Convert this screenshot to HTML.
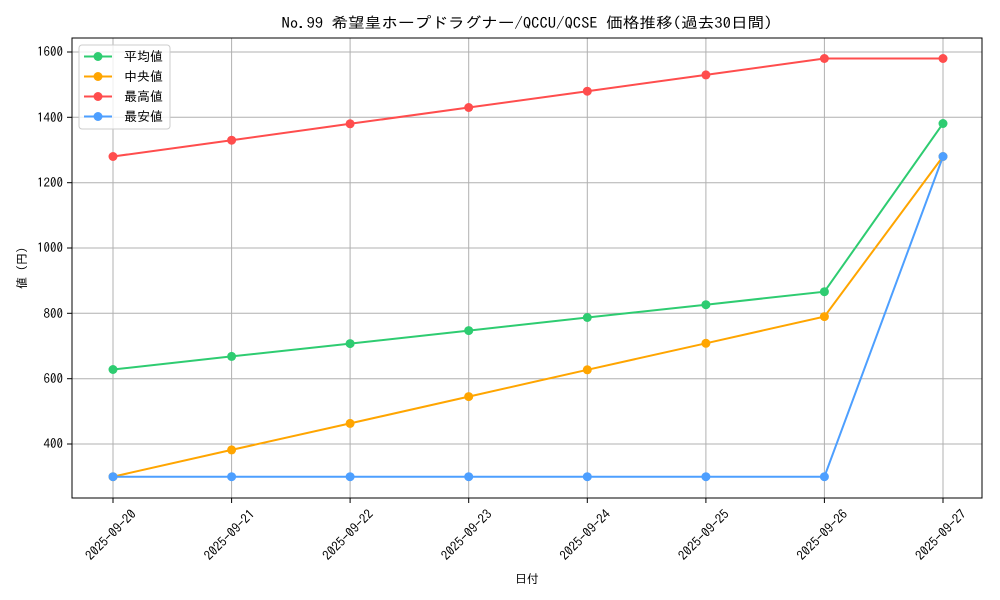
<!DOCTYPE html>
<html><head><meta charset="utf-8"><style>body{margin:0;background:#fff}svg{display:block;font-family:"IPAGothic","Noto Sans CJK JP",sans-serif}</style></head><body>
<svg width="1000" height="600" xmlns="http://www.w3.org/2000/svg">
<rect width="1000" height="600" fill="#fff"/>
<g stroke="#b0b0b0" stroke-width="1">
<line x1="113" y1="38" x2="113" y2="498"/><line x1="231.6" y1="38" x2="231.6" y2="498"/><line x1="350.1" y1="38" x2="350.1" y2="498"/><line x1="468.7" y1="38" x2="468.7" y2="498"/><line x1="587.3" y1="38" x2="587.3" y2="498"/><line x1="705.9" y1="38" x2="705.9" y2="498"/><line x1="824.4" y1="38" x2="824.4" y2="498"/><line x1="943" y1="38" x2="943" y2="498"/>
<line x1="72" y1="444" x2="982" y2="444"/><line x1="72" y1="378.7" x2="982" y2="378.7"/><line x1="72" y1="313.3" x2="982" y2="313.3"/><line x1="72" y1="248" x2="982" y2="248"/><line x1="72" y1="182.7" x2="982" y2="182.7"/><line x1="72" y1="117.3" x2="982" y2="117.3"/><line x1="72" y1="52" x2="982" y2="52"/>
</g>
<g fill="none" stroke-width="2">
<polyline stroke="#2ecc71" points="113,369.5 231.6,356.4 350.1,343.6 468.7,330.6 587.3,317.5 705.9,304.7 824.4,291.7 943,123.5"/>
<polyline stroke="#ffa500" points="113,476.7 231.6,449.9 350.1,423.4 468.7,396.6 587.3,369.8 705.9,343.3 824.4,316.6 943,156.5"/>
<polyline stroke="#ff4d4d" points="113,156.5 231.6,140.2 350.1,123.8 468.7,107.5 587.3,91.2 705.9,74.9 824.4,58.5 943,58.5"/>
<polyline stroke="#4d9fff" points="113,476.7 231.6,476.7 350.1,476.7 468.7,476.7 587.3,476.7 705.9,476.7 824.4,476.7 943,156.5"/>
</g>
<g fill="#2ecc71"><circle cx="113" cy="369.5" r="4.5"/><circle cx="231.6" cy="356.4" r="4.5"/><circle cx="350.1" cy="343.6" r="4.5"/><circle cx="468.7" cy="330.6" r="4.5"/><circle cx="587.3" cy="317.5" r="4.5"/><circle cx="705.9" cy="304.7" r="4.5"/><circle cx="824.4" cy="291.7" r="4.5"/><circle cx="943" cy="123.5" r="4.5"/></g>
<g fill="#ffa500"><circle cx="113" cy="476.7" r="4.5"/><circle cx="231.6" cy="449.9" r="4.5"/><circle cx="350.1" cy="423.4" r="4.5"/><circle cx="468.7" cy="396.6" r="4.5"/><circle cx="587.3" cy="369.8" r="4.5"/><circle cx="705.9" cy="343.3" r="4.5"/><circle cx="824.4" cy="316.6" r="4.5"/><circle cx="943" cy="156.5" r="4.5"/></g>
<g fill="#ff4d4d"><circle cx="113" cy="156.5" r="4.5"/><circle cx="231.6" cy="140.2" r="4.5"/><circle cx="350.1" cy="123.8" r="4.5"/><circle cx="468.7" cy="107.5" r="4.5"/><circle cx="587.3" cy="91.2" r="4.5"/><circle cx="705.9" cy="74.9" r="4.5"/><circle cx="824.4" cy="58.5" r="4.5"/><circle cx="943" cy="58.5" r="4.5"/></g>
<g fill="#4d9fff"><circle cx="113" cy="476.7" r="4.5"/><circle cx="231.6" cy="476.7" r="4.5"/><circle cx="350.1" cy="476.7" r="4.5"/><circle cx="468.7" cy="476.7" r="4.5"/><circle cx="587.3" cy="476.7" r="4.5"/><circle cx="705.9" cy="476.7" r="4.5"/><circle cx="824.4" cy="476.7" r="4.5"/><circle cx="943" cy="156.5" r="4.5"/></g>
<rect x="72" y="38" width="910" height="460" fill="none" stroke="#000" stroke-width="1"/>
<g stroke="#000"><line x1="67" y1="444" x2="72" y2="444"/><line x1="67" y1="378.7" x2="72" y2="378.7"/><line x1="67" y1="313.3" x2="72" y2="313.3"/><line x1="67" y1="248" x2="72" y2="248"/><line x1="67" y1="182.7" x2="72" y2="182.7"/><line x1="67" y1="117.3" x2="72" y2="117.3"/><line x1="67" y1="52" x2="72" y2="52"/>
<line x1="113" y1="498" x2="113" y2="503"/><line x1="231.6" y1="498" x2="231.6" y2="503"/><line x1="350.1" y1="498" x2="350.1" y2="503"/><line x1="468.7" y1="498" x2="468.7" y2="503"/><line x1="587.3" y1="498" x2="587.3" y2="503"/><line x1="705.9" y1="498" x2="705.9" y2="503"/><line x1="824.4" y1="498" x2="824.4" y2="503"/><line x1="943" y1="498" x2="943" y2="503"/></g>
<g font-size="13" text-anchor="end" fill="#000"><text x="63" y="448">400</text><text x="63" y="383">600</text><text x="63" y="318">800</text><text x="63" y="252">1000</text><text x="63" y="187">1200</text><text x="63" y="122">1400</text><text x="63" y="56">1600</text></g>
<g font-size="13" text-anchor="middle" fill="#000">
<text transform="translate(114,538) rotate(-45)">2025-09-20</text><text transform="translate(232.6,538) rotate(-45)">2025-09-21</text><text transform="translate(351.1,538) rotate(-45)">2025-09-22</text><text transform="translate(469.7,538) rotate(-45)">2025-09-23</text><text transform="translate(588.3,538) rotate(-45)">2025-09-24</text><text transform="translate(706.9,538) rotate(-45)">2025-09-25</text><text transform="translate(825.4,538) rotate(-45)">2025-09-26</text><text transform="translate(944,538) rotate(-45)">2025-09-27</text></g>
<text x="527" y="583" font-size="12" text-anchor="middle">日付</text>
<text transform="translate(26,268) rotate(-90)" font-size="12" text-anchor="middle">値 (円)</text>
<text x="527" y="28" font-size="15" text-anchor="middle" textLength="491" lengthAdjust="spacingAndGlyphs">No.99 希望皇ホープドラグナー/QCCU/QCSE 価格推移(過去30日間)</text>
<rect x="79" y="45" width="91" height="84" rx="3" fill="#fff" fill-opacity="0.8" stroke="#ccc"/>
<g stroke-width="2"><line x1="84" y1="56.5" x2="112" y2="56.5" stroke="#2ecc71"/><line x1="84" y1="76.5" x2="112" y2="76.5" stroke="#ffa500"/><line x1="84" y1="96.5" x2="112" y2="96.5" stroke="#ff4d4d"/><line x1="84" y1="116.5" x2="112" y2="116.5" stroke="#4d9fff"/></g>
<circle cx="98" cy="56.5" r="4.5" fill="#2ecc71"/><circle cx="98" cy="76.5" r="4.5" fill="#ffa500"/><circle cx="98" cy="96.5" r="4.5" fill="#ff4d4d"/><circle cx="98" cy="116.5" r="4.5" fill="#4d9fff"/>
<g font-size="13"><text x="124" y="61">平均値</text><text x="124" y="81">中央値</text><text x="124" y="101">最高値</text><text x="124" y="121">最安値</text></g>
</svg>
</body></html>
